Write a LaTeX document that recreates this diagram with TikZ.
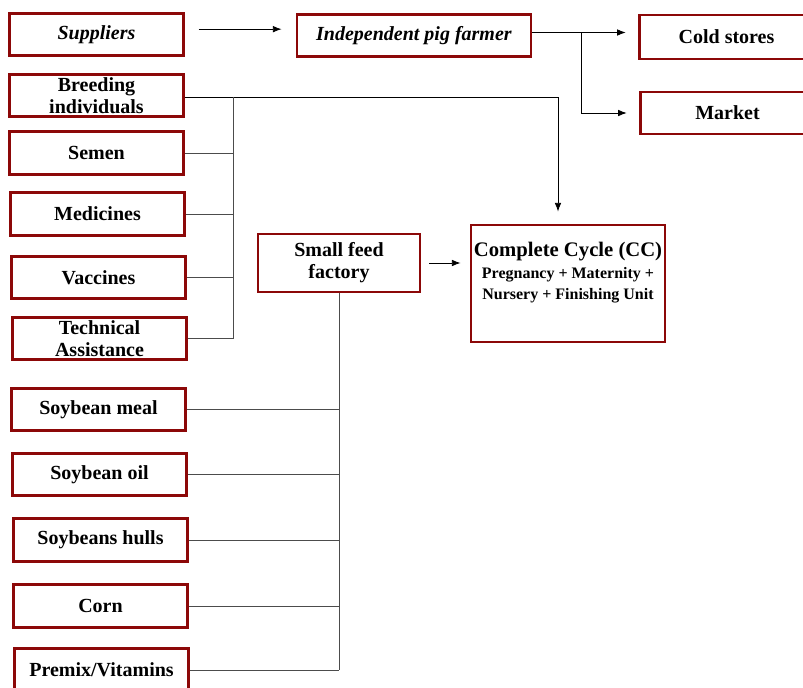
\documentclass[tikz,border=0pt]{standalone}
\usepackage{fontspec}
\setmainfont{Liberation Serif}
\usepackage{xcolor}
\usepackage{tikz}
\usetikzlibrary{shapes,arrows.meta,positioning,calc}

\definecolor{boxred}{RGB}{140,8,8}

\tikzset{
    item/.style={
        draw=boxred,
        line width=2.2pt,
        fill=white,
        minimum width=131pt,
        minimum height=32pt,
        inner sep=1pt,
        align=center,
        font=\fontsize{15}{16.5}\selectfont\bfseries
    },
    link/.style={
        line width=0.6pt,
        draw=black!70
    },
    flow/.style={
        -{Latex[length=6.5pt,width=5pt]},
        line width=0.6pt
    }
}

\begin{document}
\begin{tikzpicture}[x=0.75pt,y=-0.75pt]
                \useasboundingbox (0,0) rectangle (803,688);

                % suppliers and the farmer
                \node[item] (sup) at (96.5,34.5) {\textit{Suppliers}};
                \node[item, minimum width=175.5pt] (farmer) at (414,35.5) {\textit{Independent pig farmer}};
                \node[item, minimum height=33pt] (cold) at (726.5,37) {Cold stores};
                \node[item, minimum height=31.5pt] (market) at (727.5,113) {Market};

                % inputs of the farm
                \node[item] (breed) at (96.5,95.5) {Breeding\\individuals};
                \node[item] (semen) at (96.5,153) {Semen};
                \node[item] (medic) at (97.5,214) {Medicines};
                \node[item] (vacc) at (98.5,277.5) {Vaccines};
                \node[item] (tech) at (99.5,338.5) {Technical\\Assistance};

                % feed and the cycle
                \node[item, minimum width=121.5pt, minimum height=43.5pt] (feed) at (339,263) {Small feed\\factory};
                \node[item, minimum width=145.5pt, minimum height=87.75pt,
                    label={[anchor=north, yshift=-13.5pt, inner sep=0pt, align=center,
                        font=\fontsize{12}{15.75}\selectfont\bfseries]north:{%
                        {\fontsize{15.5}{18}\selectfont Complete Cycle (CC)}\\[1pt]
                        Pregnancy + Maternity +\\
                        Nursery + Finishing Unit}}
                    ] (cc) at (568,283.5) {};

                % feed ingredients
                \node[item] (meal) at (98.5,409.5) {Soybean meal};
                \node[item] (oil) at (99.5,474.5) {Soybean oil};
                \node[item] (hulls) at (100.5,540) {Soybeans hulls};
                \node[item] (corn) at (100.5,606) {Corn};
                \node[item] (premix) at (101.5,670) {Premix/Vitamins};

                % arrows of the chain
                \draw[
                    flow,
                    shorten <=10pt,
                    shorten >=10.5pt
                ] ([yshift=4pt]sup.east) -- ([yshift=4pt]sup.east -| farmer.west);

                \coordinate (fork) at ($(farmer.east)+(49,-3)$);

                \draw[
                    flow,
                    shorten >=9pt
                ] ([yshift=2.25pt]farmer.east) -- ([yshift=2.25pt]farmer.east -| cold.west);

                \draw[
                    flow,
                    shorten >=9pt
                ] (fork) |- (market.west);

                \draw[
                    flow,
                    shorten >=9pt
                ] ([yshift=-1.5pt]breed.east) -| ([xshift=-7.5pt]cc.north);

                \draw[
                    flow,
                    shorten <=6pt,
                    shorten >=6.75pt
                ] (feed.east) -- (feed.east -| cc.west);

                % bus of the farm inputs
                \coordinate (busA) at ($(breed.east)+(48,1.5)$);
                \draw[link] (busA) -- (tech.east -| busA);
                \foreach \n in {semen,medic,vacc,tech}
                    \draw[link] (\n.east) -- (\n.east -| busA);

                % bus of the feed
                \draw[link] (feed.south) -- (premix.east -| feed.south);
                \foreach \n in {meal,oil,hulls,corn,premix}
                    \draw[link] (\n.east) -- (\n.east -| feed.south);

            \end{tikzpicture}
\end{document}
